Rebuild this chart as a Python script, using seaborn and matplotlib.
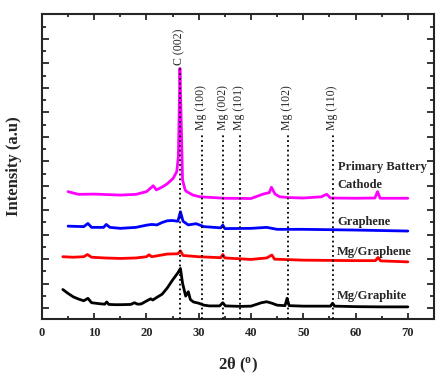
import numpy as np
import pandas as pd
import matplotlib
matplotlib.use("Agg")
import matplotlib.pyplot as plt
import seaborn as sns

# XRD patterns, values (stacked, arbitrary units)
graphite_x = [4, 5, 6, 7, 8, 8.8, 9.5, 11, 12, 12.4, 12.8, 14, 15, 17, 17.7, 18.3, 19, 20, 20.8, 21.2, 22,
              23, 24, 25, 26, 26.5, 26.9, 27.5, 28.0, 28.4, 29, 30, 31, 32, 34, 34.6, 35.1, 38, 40, 42,
              43, 44, 45, 46.5, 46.9, 47.3, 50, 55.2, 55.6, 56, 60, 65, 70]
graphite_y = [0.76, 0.60, 0.46, 0.37, 0.30, 0.40, 0.22, 0.18, 0.16, 0.25, 0.15, 0.14, 0.14, 0.15, 0.22, 0.16,
              0.17, 0.29, 0.38, 0.33, 0.44, 0.57, 0.83, 1.15, 1.44, 1.62, 1.02, 0.49, 0.67, 0.35, 0.25,
              0.20, 0.12, 0.09, 0.09, 0.22, 0.09, 0.07, 0.08, 0.22, 0.26, 0.20, 0.12, 0.10, 0.40, 0.10,
              0.08, 0.08, 0.20, 0.08, 0.06, 0.05, 0.05]

mg_graphene_x = [4, 6, 8, 8.7, 9.5, 12, 15, 18, 20, 20.5, 21, 24, 26, 26.5, 27, 30, 34.2, 34.6, 35, 40, 43,
                 44, 44.5, 50, 60, 63.8, 64.3, 64.8, 70]
mg_graphene_y = [2.10, 2.08, 2.10, 2.19, 2.08, 2.05, 2.03, 2.05, 2.10, 2.18, 2.10, 2.21, 2.22, 2.34, 2.15,
                 2.10, 2.06, 2.19, 2.05, 1.99, 2.05, 2.17, 2.00, 1.96, 1.94, 1.94, 2.07, 1.93, 1.89]

graphene_x = [5, 8, 8.8, 9.5, 11.8, 12.3, 13, 15, 18, 20, 21, 22, 23, 24, 25, 26, 26.5, 27, 28, 29.5, 31,
              34.2, 34.6, 35, 40, 43, 45, 50, 60, 70]
graphene_y = [3.35, 3.33, 3.46, 3.30, 3.30, 3.42, 3.30, 3.26, 3.30, 3.39, 3.42, 3.40, 3.50, 3.57, 3.58,
              3.55, 3.94, 3.55, 3.40, 3.45, 3.33, 3.28, 3.39, 3.25, 3.26, 3.30, 3.22, 3.22, 3.19, 3.15]

cathode_x = [5, 7, 10, 15, 18, 20, 21.3, 21.9, 23, 23.9, 25.1, 25.8, 26.1, 26.3, 26.4, 26.7, 26.9, 27.4,
             27.7, 28.9, 30.2, 35, 40, 42.3, 43.5, 43.9, 44.6, 45.5, 47, 50, 53.5, 54.1, 54.5, 55.2, 60,
             63.7, 64.2, 64.7, 70]
cathode_y = [4.76, 4.65, 4.66, 4.62, 4.65, 4.76, 5.00, 4.83, 4.95, 5.07, 5.30, 5.58, 6.19, 8.50, 9.80,
             7.16, 5.24, 4.83, 4.76, 4.62, 4.55, 4.49, 4.48, 4.66, 4.72, 4.94, 4.66, 4.55, 4.52, 4.50,
             4.55, 4.62, 4.65, 4.50, 4.49, 4.50, 4.76, 4.49, 4.49]

# reference reflections
peak_pos = [26.4, 30.6, 34.7, 37.8, 47.0, 55.6]
peak_top = [9.80, 7.16, 7.16, 7.16, 7.16, 7.16]
peak_names = ["C (002)", "Mg (100)", "Mg (002)", "Mg (101)", "Mg (102)", "Mg (110)"]

sns.set_style("ticks")
plt.rcParams['font.family'] = ['Liberation Serif', 'DejaVu Serif']
plt.rcParams['axes.linewidth'] = 1.5

fig = plt.figure(figsize=(4.46, 3.79), dpi=100)
ax = fig.add_axes([0.094, 0.158, 0.879, 0.805])

series = [(graphite_x, graphite_y, "black"), (mg_graphene_x, mg_graphene_y, "red"),
          (graphene_x, graphene_y, "blue"), (cathode_x, cathode_y, "magenta")]
for xs, ys, col in series:
    df = pd.DataFrame({"x": xs, "y": ys})
    sns.lineplot(data=df, x="x", y="y", color=col, lw=2.0, ax=ax, sort=False)

ax.set_xlim(0, 75)
ax.set_ylim(-0.45, 12.02)

ax.vlines(peak_pos, -0.45, peak_top, colors="black", linestyles=":", lw=1.3, zorder=5)
for p, t, name in zip(peak_pos, peak_top, peak_names):
    ax.text(p - 0.15, t + 0.12, name, rotation=90, ha="center", va="bottom", fontsize=8.5)

lab_kw = dict(fontsize=9, fontweight="bold", ha="left", va="center")
ax.text(56.6, 5.77, "Primary Battery", **lab_kw)
ax.text(56.6, 5.03, "Cathode", **lab_kw)
ax.text(56.5, 3.52, "Graphene", **lab_kw)
ax.text(56.5, 2.29, "Mg/Graphene", **lab_kw)
ax.text(56.5, 0.49, "Mg/Graphite", **lab_kw)

ax.set_xticks(range(0, 71, 10))
ax.set_xticks(range(5, 76, 5), minor=True)
ax.set_yticks(range(0, 12))
ax.set_yticks(np.arange(0.5, 12, 1), minor=True)
ax.set_yticklabels([])
ax.tick_params(which="both", direction="in", top=True, right=True, width=1.3)
ax.tick_params(axis="x", which="major", length=4, labelsize=9, pad=6)
ax.tick_params(axis="x", which="minor", length=2.5)
ax.tick_params(axis="y", which="major", length=5)
ax.tick_params(axis="y", which="minor", length=3)
for lab in ax.get_xticklabels():
    lab.set_fontweight("bold")

ax.set_xlabel("2θ ($\\mathregular{^{o}}$)", fontsize=12, fontweight="bold", labelpad=12)
ax.set_ylabel("Intensity (a.u)", fontsize=12, fontweight="bold", labelpad=11)

fig.savefig("out.png", dpi=100)
